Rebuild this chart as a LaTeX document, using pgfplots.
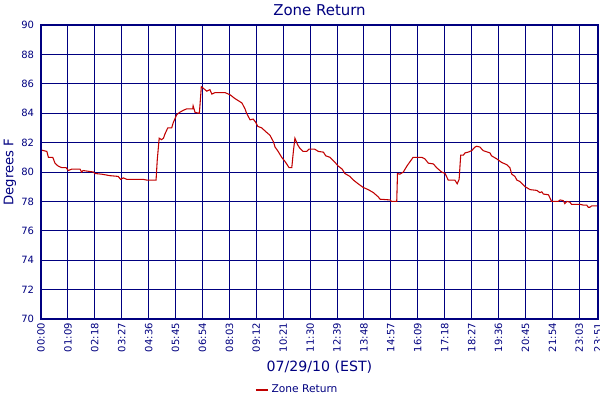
\documentclass[border=0pt]{standalone}
\usepackage{fontspec}
\setmainfont{DejaVu Sans}
\usepackage{pgfplots}
\pgfplotsset{compat=1.18}
\definecolor{navy}{RGB}{0,0,128}
\definecolor{linered}{RGB}{192,0,0}
\begin{document}
\begin{tikzpicture}
\path[use as bounding box] (-30.75pt,-60.75pt) rectangle (419.25pt,239.25pt);
\begin{axis}[
    at={(0,0)}, anchor=south west,
    scale only axis,
    width=417.75pt, height=220.5pt,
    xmin=0, xmax=1428,
    ymin=70, ymax=90,
    ytick={70,72,...,90},
    xtick={0,69,138,207,276,345,414,483,552,621,690,759,828,897,966,1035,1104,1173,1242,1311,1380,1428},
    xticklabels={00:00,01:09,02:18,03:27,04:36,05:45,06:54,08:03,09:12,10:21,11:30,12:39,13:48,14:57,16:09,17:18,18:27,19:36,20:45,21:54,23:03,23:51},
    grid=major,
    major grid style={color=navy, draw=navy, line width=0.75pt},
    axis line style={draw=navy, line width=0.9pt},
    major tick length=0pt,
    tick label style={font=\fontsize{7.5}{9}\selectfont, text=navy},
    /pgf/number format/assume math mode=true,
    xticklabel style={rotate=90, anchor=east, inner sep=0pt, xshift=-3pt},
    yticklabel style={anchor=east, inner sep=0pt, xshift=-5pt},
    title={Zone Return},
    title style={at={(0.5,1.051)}, anchor=center, yshift=-6pt, font=\fontsize{11.2}{13}\selectfont, text=navy},
    xlabel={07/29/10 (EST)},
    xlabel style={at={(axis description cs:0.5,-0.163)}, anchor=center, font=\fontsize{10.6}{12}\selectfont, text=navy},
    ylabel={Degrees F},
    ylabel style={at={(axis description cs:-0.0557,0.5)}, anchor=center, font=\fontsize{9.9}{12}\selectfont, text=navy},
    legend style={at={(0.4605,-0.2415)}, anchor=center, draw=none, fill=none,
        font=\fontsize{8}{9}\selectfont, text=navy, inner sep=0pt,
        /tikz/every even column/.append style={column sep=0pt}},
    legend cell align=left,
    legend image code/.code={\draw[#1, line width=1.5pt] (0pt,0pt) -- (9pt,0pt);},
]
\addplot[color=linered, line width=0.8pt, mark=none] coordinates {
(0,81.5) (15,81.4) (19,81.0) (30,81.0) (36,80.6) (44,80.4) (53,80.3) (64,80.3)
(70,80.1) (79,80.2) (100,80.2) (104,80.0) (108,80.1) (134,80.0) (138,79.9)
(156,79.85) (177,79.75) (198,79.7) (204,79.5) (211,79.6) (220,79.5) (262,79.5)
(271,79.45) (295,79.45) (298,80.8) (303,82.3) (309,82.2) (314,82.3) (318,82.6)
(325,83.0) (335,83.0) (339,83.35) (348,83.9) (355,84.05) (365,84.2) (374,84.3)
(389,84.3) (390,84.5) (395,84.05) (406,84.0) (408,84.7) (411,85.8) (416,85.7)
(425,85.5) (433,85.6) (438,85.3) (446,85.4) (463,85.4) (472,85.4) (485,85.25)
(497,85.0) (506,84.85) (515,84.7) (523,84.3) (527,84.0) (536,83.55) (544,83.6)
(550,83.4) (556,83.1) (566,83.0) (576,82.75) (587,82.5) (596,82.05) (600,81.7)
(608,81.4) (617,81.0) (626,80.7) (636,80.3) (643,80.3) (647,81.4) (651,82.3)
(658,81.85) (664,81.6) (672,81.4) (681,81.4) (687,81.55) (702,81.55) (711,81.4)
(724,81.35) (730,81.1) (741,81.0) (754,80.65) (762,80.4) (772,80.2) (779,79.9)
(792,79.7) (801,79.45) (813,79.2) (826,78.95) (839,78.8) (852,78.6) (865,78.3)
(869,78.15) (895,78.1) (899,78.0) (912,78.0) (914,79.9) (920,79.85) (929,80.0)
(938,80.4) (946,80.7) (954,81.0) (976,81.0) (984,80.9) (993,80.6) (1006,80.55)
(1014,80.3) (1027,80.0) (1036,79.9) (1044,79.45) (1061,79.45) (1067,79.2)
(1072,79.5) (1076,81.15) (1083,81.15) (1087,81.3) (1095,81.35) (1104,81.45)
(1113,81.7) (1117,81.75) (1125,81.7) (1134,81.45) (1151,81.3) (1155,81.1)
(1168,80.9) (1181,80.65) (1194,80.5) (1202,80.3) (1207,79.85) (1215,79.7)
(1220,79.45) (1228,79.35) (1241,79.0) (1254,78.8) (1271,78.75) (1279,78.6)
(1284,78.65) (1288,78.5) (1301,78.45) (1309,78.0) (1326,78.0) (1331,78.1)
(1339,78.05) (1343,77.85) (1348,78.0) (1356,77.95) (1360,77.8) (1382,77.8)
(1390,77.75) (1399,77.75) (1403,77.6) (1407,77.6) (1412,77.7) (1428,77.7)
};
\addlegendentry{Zone Return}
\draw[navy, line width=1.5pt] (rel axis cs:0,0) -- (rel axis cs:0,1);
\draw[navy, line width=1.5pt] (rel axis cs:1,0) -- (rel axis cs:1,1);
\draw[navy, line width=1.5pt] (rel axis cs:0,0) -- (rel axis cs:1,0);
\end{axis}
\end{tikzpicture}
\end{document}
